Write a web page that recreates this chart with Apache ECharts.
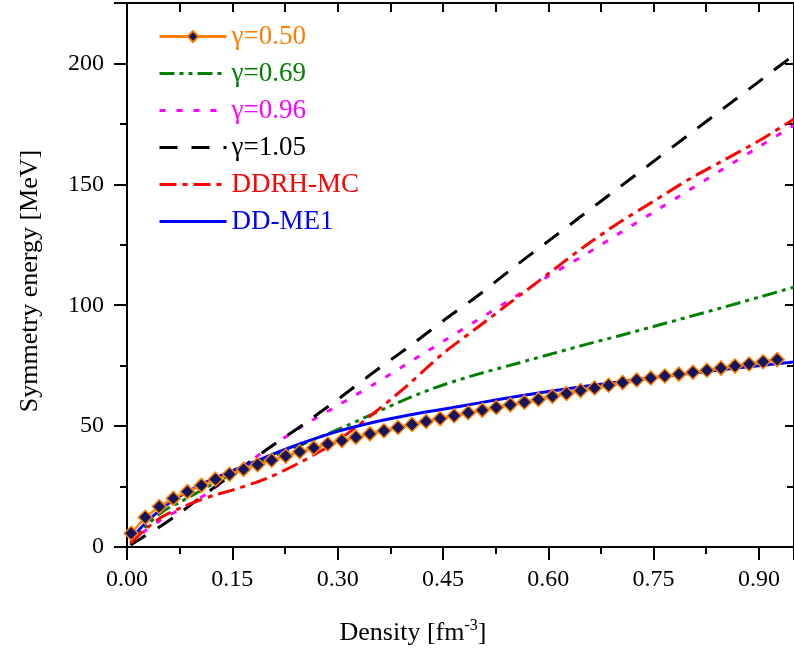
<!DOCTYPE html>
<html>
<head>
<meta charset="utf-8">
<script src="https://cdn.jsdelivr.net/npm/echarts@6/dist/echarts.min.js"></script>
<style>html,body{margin:0;padding:0;background:#fff}#c{width:794px;height:655px}</style>
</head>
<body>
<div id="c"></div>
<script>
// ---- data ----
const seriesNames = ['γ=0.50', 'γ=0.69', 'γ=0.96', 'γ=1.05', 'DDRH-MC', 'DD-ME1'];
const xTickLabels = ['0.00', '0.15', '0.30', '0.45', '0.60', '0.75', '0.90'];
const yTickLabels = ['0', '50', '100', '150', '200'];

// density points of the γ=0.50 marker series
const densMarkers = [0.006,0.026,0.046,0.066,0.086,0.106,0.126,0.146,0.166,0.186,0.206,0.226,0.246,0.266,0.286,0.306,0.326,0.346,0.366,0.386,0.406,0.426,0.446,0.466,0.486,0.506,0.526,0.546,0.566,0.586,0.606,0.626,0.646,0.666,0.686,0.706,0.726,0.746,0.766,0.786,0.806,0.826,0.846,0.866,0.886,0.906,0.926];
const gamma050 = [5.7,12.3,16.7,20.1,22.9,25.5,28.0,30.1,32.1,34.0,35.9,37.6,39.4,41.0,42.6,44.0,45.4,46.8,48.1,49.4,50.7,51.9,53.1,54.3,55.5,56.6,57.7,58.8,59.9,61.0,62.3,63.5,64.7,65.8,66.9,68.0,69.1,69.9,70.7,71.5,72.3,73.1,74.0,74.9,75.7,76.6,77.5];

// density grid of the line series
const dens = [0.005,0.025,0.05,0.075,0.1,0.125,0.15,0.2,0.25,0.3,0.35,0.4,0.45,0.5,0.55,0.6,0.65,0.7,0.75,0.8,0.85,0.9,0.95];
const gamma069 = [2.0,8.0,14.5,18.5,22.5,26.5,30.0,36.5,42.5,48.5,55.0,61.5,67.0,71.5,75.5,79.5,83.5,87.3,91.2,95.2,99.2,103.3,107.5];
const gamma096 = [0.8,6.5,11.5,15.5,19.5,24.5,30.0,40.5,50.0,58.5,67.0,76.0,85.0,94.0,103.0,112.0,120.5,129.5,138.5,147.5,156.5,165.5,174.5];
const gamma105 = [0.8,4.5,9.0,14.0,19.5,24.8,30.0,40.5,50.5,61.0,72.0,82.5,93.5,104.0,115.5,126.5,137.5,148.5,159.5,170.5,181.5,192.5,203.5];
const ddrhmc   = [1.5,7.0,12.5,16.0,19.0,21.5,23.5,28.5,35.5,44.0,55.0,67.0,80.0,91.0,102.0,113.0,124.0,134.0,143.0,152.0,160.0,168.0,177.0];
const ddme1    = [3.0,9.5,16.0,21.0,25.0,28.5,31.5,37.5,43.0,47.8,51.5,54.5,57.0,59.5,62.0,64.3,66.4,68.3,70.1,71.8,73.4,75.0,76.5];

const colors = ['#FF8000', '#008000', '#FF00FF', '#000000', '#FF0000', '#0000FF'];
const dashes = [
  'solid',
  [15, 5, 4, 5, 4, 5],
  [6, 11],
  [18, 14],
  [17, 6, 5, 6],
  'solid'
];

function pairs(xs, ys) { return xs.map((x, i) => [x, ys[i]]); }

const FONT = 'Liberation Serif';
const chart = echarts.init(document.getElementById('c'), null, {renderer: 'canvas'});

const lineData = [gamma069, gamma096, gamma105, ddrhmc, ddme1];
const series = [];
for (let i = 1; i < 6; i++) {
  series.push({
    name: seriesNames[i], type: 'line', xAxisIndex: 0, yAxisIndex: 0,
    data: pairs(dens, lineData[i - 1]),
    smooth: 0.3, symbol: 'none', z: 2 + i,
    lineStyle: {color: colors[i], width: 3, type: dashes[i], cap: 'butt'},
    itemStyle: {color: colors[i]}
  });
}
series.push({
  name: seriesNames[0], type: 'line', xAxisIndex: 0, yAxisIndex: 0,
  data: pairs(densMarkers, gamma050),
  symbol: 'diamond', symbolSize: 14, showSymbol: true, z: 10,
  lineStyle: {color: colors[0], width: 2.5},
  itemStyle: {color: '#14145f', borderColor: colors[0], borderWidth: 1.5}
});

const axisCommon = {
  type: 'value', splitLine: {show: false},
  axisLine: {show: true, onZero: false, lineStyle: {color: '#000', width: 2}},
  minorTick: {show: true, splitNumber: 2, length: 7, lineStyle: {color: '#000', width: 2}},
  minorSplitLine: {show: false}
};

const option = {
  animation: false,
  backgroundColor: '#fff',
  grid: {left: 127, top: 3, width: 671, height: 544, containLabel: false},
  xAxis: [
    Object.assign({}, axisCommon, {
      position: 'bottom', min: 0, max: 0.95, interval: 0.15,
      axisTick: {show: true, inside: false, length: 13, lineStyle: {color: '#000', width: 2}},
      axisLabel: {show: true, margin: 21, color: '#000', fontFamily: FONT, fontSize: 24, showMaxLabel: false,
        formatter: v => { const k = Math.round(v / 0.15); return Math.abs(v - k * 0.15) < 1e-6 ? xTickLabels[k] : ''; }}
    }),
    Object.assign({}, axisCommon, {
      position: 'top', min: 0, max: 0.95, interval: 0.15,
      axisTick: {show: true, inside: true, length: 9, lineStyle: {color: '#000', width: 2}},
      minorTick: {show: true, splitNumber: 2, length: 9, lineStyle: {color: '#000', width: 2}},
      axisLabel: {show: false}
    })
  ],
  yAxis: [
    Object.assign({}, axisCommon, {
      position: 'left', min: 0, max: 225, interval: 50,
      axisTick: {show: true, inside: false, length: 13, lineStyle: {color: '#000', width: 2}},
      axisLabel: {show: true, margin: 23, color: '#000', fontFamily: FONT, fontSize: 24, showMaxLabel: false,
        formatter: v => { const k = Math.round(v / 50); return Math.abs(v - k * 50) < 1e-6 && k < yTickLabels.length ? yTickLabels[k] : ''; }}
    }),
    Object.assign({}, axisCommon, {
      position: 'right', min: 0, max: 225, interval: 50,
      axisTick: {show: true, inside: true, length: 9, lineStyle: {color: '#000', width: 2}},
      minorTick: {show: true, splitNumber: 2, length: 7, lineStyle: {color: '#000', width: 2}},
      axisLabel: {show: false}
    })
  ],
  legend: {
    orient: 'vertical', left: 153, top: 18, itemWidth: 67, itemHeight: 14, itemGap: 10,
    lineStyle: {width: 3},
    data: seriesNames.map((n, i) => i === 0
      ? {name: n, textStyle: {color: colors[i]}}
      : {name: n, textStyle: {color: colors[i]}, itemStyle: {opacity: 0}}),
    textStyle: {fontFamily: FONT, fontSize: 27, lineHeight: 27}
  },
  graphic: [
    {type: 'text', x: 413, y: 633, z: 100,
      style: {
        text: '{a|Density [fm}{s|-3}{a|]}',
        align: 'center', verticalAlign: 'middle',
        rich: {
          a: {fontFamily: FONT, fontSize: 26, fill: '#000', lineHeight: 30},
          s: {fontFamily: FONT, fontSize: 16, fill: '#000', verticalAlign: 'top', lineHeight: 30, padding: [0, 0, 12, 0]}
        }
      }},
    {type: 'text', x: 30, y: 281, rotation: Math.PI / 2, z: 100,
      style: {text: 'Symmetry energy [MeV]', fontFamily: FONT, fontSize: 26, fill: '#000',
        align: 'center', verticalAlign: 'middle'}}
  ],
  series: series
};
chart.setOption(option);
</script>
</body>
</html>
